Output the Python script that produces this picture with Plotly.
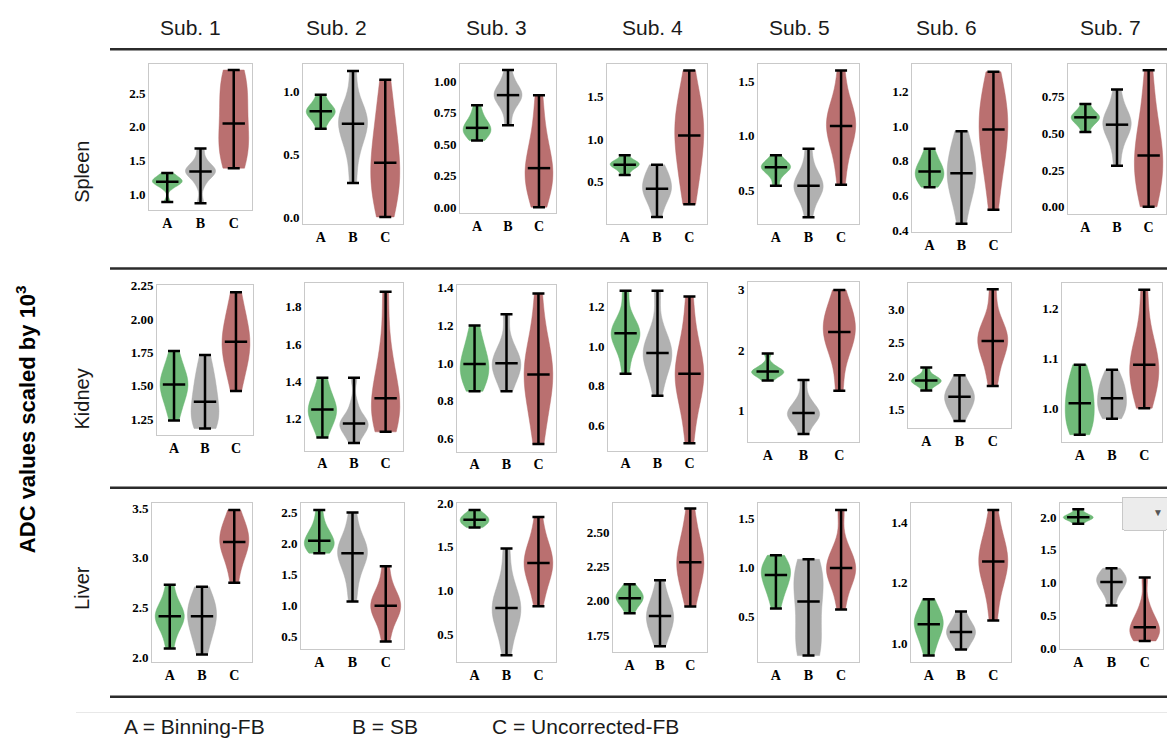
import numpy as np
import plotly.graph_objects as go

# ---------------- data ----------------
subjects = ["Sub. 1", "Sub. 2", "Sub. 3", "Sub. 4", "Sub. 5", "Sub. 6", "Sub. 7"]
organs = ["Spleen", "Kidney", "Liver"]
methods = ["A", "B", "C"]
legend_labels = ["A = Binning-FB", "B = SB", "C = Uncorrected-FB"]

# ADC samples per subject (x10^3) for each organ / method
spleen_A = [
    [0.89, 1.10, 1.15, 1.18, 1.19, 1.21, 1.23, 1.27, 1.32],
    [0.70, 0.76, 0.80, 0.82, 0.84, 0.85, 0.87, 0.91, 0.97],
    [0.53, 0.57, 0.59, 0.61, 0.63, 0.65, 0.68, 0.73, 0.81],
    [0.58, 0.64, 0.67, 0.69, 0.70, 0.72, 0.73, 0.75, 0.81],
    [0.54, 0.63, 0.67, 0.70, 0.71, 0.72, 0.74, 0.77, 0.82],
    [0.65, 0.68, 0.70, 0.72, 0.74, 0.76, 0.78, 0.82, 0.87],
    [0.51, 0.56, 0.58, 0.60, 0.61, 0.62, 0.63, 0.66, 0.70],
]
spleen_B = [
    [0.87, 1.15, 1.28, 1.32, 1.34, 1.37, 1.40, 1.50, 1.68],
    [0.27, 0.50, 0.62, 0.70, 0.74, 0.78, 0.82, 0.90, 1.16],
    [0.65, 0.78, 0.84, 0.87, 0.89, 0.91, 0.94, 0.99, 1.09],
    [0.09, 0.25, 0.35, 0.39, 0.42, 0.48, 0.55, 0.62, 0.70],
    [0.25, 0.40, 0.47, 0.51, 0.54, 0.57, 0.62, 0.70, 0.88],
    [0.44, 0.58, 0.64, 0.68, 0.73, 0.77, 0.82, 0.88, 0.97],
    [0.28, 0.42, 0.50, 0.54, 0.56, 0.59, 0.62, 0.68, 0.80],
]
spleen_C = [
    [1.39, 1.55, 1.70, 1.85, 2.05, 2.35, 2.55, 2.70, 2.84],
    [0.00, 0.15, 0.25, 0.32, 0.43, 0.55, 0.68, 0.85, 1.09],
    [0.00, 0.12, 0.20, 0.25, 0.31, 0.38, 0.48, 0.65, 0.89],
    [0.24, 0.50, 0.75, 0.90, 1.04, 1.20, 1.30, 1.45, 1.80],
    [0.55, 0.80, 0.95, 1.03, 1.09, 1.15, 1.22, 1.32, 1.60],
    [0.52, 0.72, 0.82, 0.90, 0.98, 1.05, 1.10, 1.18, 1.31],
    [0.00, 0.12, 0.20, 0.27, 0.35, 0.42, 0.52, 0.68, 0.93],
]
kidney_A = [
    [1.24, 1.35, 1.42, 1.47, 1.51, 1.54, 1.58, 1.65, 1.76],
    [1.10, 1.17, 1.20, 1.23, 1.25, 1.27, 1.30, 1.35, 1.42],
    [0.85, 0.90, 0.93, 0.96, 0.995, 1.02, 1.06, 1.12, 1.20],
    [0.86, 0.96, 1.01, 1.04, 1.065, 1.08, 1.10, 1.15, 1.28],
    [1.49, 1.56, 1.60, 1.62, 1.64, 1.66, 1.69, 1.76, 1.94],
    [1.78, 1.86, 1.89, 1.91, 1.93, 1.95, 1.97, 2.02, 2.13],
    [0.947, 0.96, 0.975, 0.99, 1.01, 1.025, 1.04, 1.06, 1.087],
]
kidney_B = [
    [1.18, 1.22, 1.25, 1.29, 1.38, 1.45, 1.52, 1.60, 1.73],
    [1.07, 1.12, 1.15, 1.16, 1.175, 1.19, 1.21, 1.28, 1.42],
    [0.85, 0.91, 0.95, 0.98, 1.00, 1.02, 1.05, 1.11, 1.26],
    [0.75, 0.85, 0.90, 0.94, 0.965, 0.99, 1.02, 1.09, 1.28],
    [0.60, 0.78, 0.86, 0.91, 0.95, 0.99, 1.06, 1.20, 1.50],
    [1.32, 1.47, 1.55, 1.61, 1.685, 1.72, 1.78, 1.86, 2.01],
    [0.979, 0.99, 1.00, 1.01, 1.02, 1.035, 1.045, 1.055, 1.077],
]
kidney_C = [
    [1.46, 1.62, 1.70, 1.76, 1.83, 1.88, 1.95, 2.05, 2.20],
    [1.13, 1.18, 1.22, 1.26, 1.31, 1.38, 1.45, 1.60, 1.88],
    [0.57, 0.72, 0.82, 0.89, 0.94, 0.99, 1.05, 1.15, 1.37],
    [0.51, 0.68, 0.77, 0.82, 0.86, 0.90, 0.96, 1.06, 1.25],
    [1.32, 1.85, 2.10, 2.22, 2.30, 2.45, 2.58, 2.68, 3.00],
    [1.85, 2.15, 2.35, 2.45, 2.53, 2.62, 2.70, 2.85, 3.31],
    [1.00, 1.03, 1.05, 1.07, 1.087, 1.10, 1.12, 1.16, 1.237],
]
liver_A = [
    [2.09, 2.25, 2.33, 2.38, 2.415, 2.45, 2.49, 2.58, 2.73],
    [1.84, 1.90, 1.95, 1.99, 2.04, 2.10, 2.18, 2.30, 2.54],
    [1.72, 1.75, 1.77, 1.79, 1.81, 1.83, 1.85, 1.87, 1.92],
    [1.91, 1.96, 1.99, 2.01, 2.02, 2.04, 2.06, 2.08, 2.12],
    [0.58, 0.72, 0.80, 0.86, 0.92, 0.97, 1.00, 1.03, 1.12],
    [0.96, 1.00, 1.03, 1.05, 1.063, 1.075, 1.09, 1.11, 1.146],
    [1.90, 1.95, 1.97, 1.99, 2.00, 2.01, 2.03, 2.06, 2.12],
]
liver_B = [
    [2.03, 2.18, 2.28, 2.35, 2.415, 2.47, 2.52, 2.60, 2.71],
    [1.06, 1.40, 1.65, 1.78, 1.84, 1.90, 1.98, 2.15, 2.50],
    [0.26, 0.52, 0.65, 0.74, 0.80, 0.86, 0.95, 1.12, 1.48],
    [1.67, 1.76, 1.81, 1.86, 1.89, 1.92, 1.96, 2.03, 2.15],
    [0.10, 0.15, 0.22, 0.40, 0.65, 0.82, 0.88, 0.93, 1.08],
    [0.98, 1.00, 1.02, 1.03, 1.038, 1.045, 1.06, 1.075, 1.105],
    [0.65, 0.82, 0.92, 0.97, 1.01, 1.06, 1.10, 1.15, 1.22],
]
liver_C = [
    [2.75, 2.95, 3.05, 3.12, 3.16, 3.22, 3.28, 3.35, 3.48],
    [0.41, 0.70, 0.85, 0.93, 0.99, 1.05, 1.15, 1.30, 1.63],
    [0.82, 1.05, 1.17, 1.25, 1.315, 1.38, 1.46, 1.58, 1.84],
    [1.96, 2.10, 2.18, 2.24, 2.28, 2.33, 2.40, 2.50, 2.67],
    [0.57, 0.78, 0.88, 0.94, 0.99, 1.04, 1.10, 1.22, 1.58],
    [1.076, 1.17, 1.22, 1.25, 1.27, 1.29, 1.32, 1.36, 1.44],
    [0.11, 0.17, 0.21, 0.26, 0.32, 0.38, 0.48, 0.65, 1.08],
]

organ_data = {
    "Spleen": [spleen_A, spleen_B, spleen_C],
    "Kidney": [kidney_A, kidney_B, kidney_C],
    "Liver": [liver_A, liver_B, liver_C],
}

# ---------------- layout / style ----------------
W, H = 1167, 748

# panel boxes in pixels (x0, x1, y0, y1), row-major
panel_boxes = [
    (149, 252, 58, 207), (303, 403, 58, 221), (460, 556, 58, 210), (607, 707, 58, 221),
    (758, 859, 58, 221), (912, 1011, 58, 229), (1068, 1166, 58, 211),
    (157, 253, 283, 436), (305, 403, 281, 452), (457, 556, 283, 453), (608, 707, 281, 452),
    (748, 859, 280, 443), (908, 1011, 281, 429), (1062, 1162, 281, 443),
    (152, 252, 505, 668), (301, 404, 505, 654), (457, 556, 505, 668), (613, 707, 505, 657),
    (758, 859, 505, 668), (911, 1011, 505, 668), (1060, 1163, 505, 654),
]
y_ranges = [
    [0.77, 2.93], [-0.055, 1.216], [-0.047, 1.138], [0.01, 1.877], [0.19, 1.66], [0.395, 1.355], [-0.049, 0.974],
    [1.132, 2.257], [1.03, 1.928], [0.53, 1.417], [0.473, 1.32], [0.473, 3.136], [1.214, 3.41], [0.933, 1.251],
    [1.95, 3.556], [0.294, 2.659], [0.178, 2.006], [1.631, 2.714], [0.03, 1.657], [0.937, 1.465], [-0.01, 2.224],
]
y_dticks = [
    0.5, 0.5, 0.25, 0.5, 0.5, 0.2, 0.25,
    0.25, 0.2, 0.2, 0.2, 1, 0.5, 0.1,
    0.5, 0.5, 0.5, 0.25, 0.5, 0.2, 0.5,
]
y_formats = [
    ".1f", ".1f", ".2f", ".1f", ".1f", ".1f", ".2f",
    ".2f", ".1f", ".1f", ".1f", ".0f", ".1f", ".1f",
    ".1f", ".1f", ".1f", ".2f", ".1f", ".1f", ".1f",
]
title_x = [190, 336, 496, 652, 799, 946, 1110]
row_label_y = [168, 400, 592]

fill_colors = ["rgba(100,180,110,0.92)", "rgba(170,170,170,0.92)", "rgba(180,100,100,0.92)"]
ytick_font = dict(family="Liberation Serif", size=13, color="black", weight="bold")
xtick_font = dict(family="Liberation Serif", size=14, color="black", weight="bold")
frame_color = "#c9c9c9"

fig = go.Figure()
layout_axes = {}

idx = 0
for r, organ in enumerate(organs):
    series = organ_data[organ]
    for c in range(len(subjects)):
        xa = "x" if idx == 0 else f"x{idx + 1}"
        ya = "y" if idx == 0 else f"y{idx + 1}"
        meds, lows, highs = [], [], []
        for m, method in enumerate(methods):
            vals = series[m][c]
            fig.add_trace(go.Violin(
                x=[method] * len(vals), y=vals, xaxis=xa, yaxis=ya,
                spanmode="hard", points=False, width=0.9,
                fillcolor=fill_colors[m],
                line=dict(color=fill_colors[m], width=0.5),
                box_visible=False, meanline_visible=False,
                showlegend=False, hoverinfo="skip",
            ))
            arr = np.array(vals)
            meds.append(float(np.median(arr)))
            lows.append(float(arr.min()))
            highs.append(float(arr.max()))
        meds = np.array(meds)
        fig.add_trace(go.Scatter(
            x=methods, y=meds, xaxis=xa, yaxis=ya, mode="markers",
            marker=dict(symbol="line-ew", size=16, color="black",
                        line=dict(width=2.5, color="black")),
            error_y=dict(type="data", symmetric=False,
                         array=np.array(highs) - meds,
                         arrayminus=meds - np.array(lows),
                         color="black", thickness=2.5, width=6),
            showlegend=False, hoverinfo="skip",
        ))
        x0, x1, y0, y1 = panel_boxes[idx]
        key = "" if idx == 0 else str(idx + 1)
        layout_axes["xaxis" + key] = dict(
            domain=[x0 / W, x1 / W], anchor=ya, type="category",
            categoryorder="array", categoryarray=methods,
            range=[-0.55, 2.55], showline=True, mirror=True,
            linecolor=frame_color, linewidth=1, showgrid=False,
            zeroline=False, ticks="", tickfont=xtick_font, fixedrange=True,
        )
        layout_axes["yaxis" + key] = dict(
            domain=[1 - y1 / H, 1 - y0 / H], anchor=xa,
            range=y_ranges[idx], tick0=0, dtick=y_dticks[idx],
            tickformat=y_formats[idx], showline=True, mirror=True,
            linecolor=frame_color, linewidth=1, showgrid=False,
            zeroline=False, ticks="", tickfont=ytick_font, fixedrange=True,
        )
        idx += 1

annotations = []
for c, s in enumerate(subjects):
    annotations.append(dict(
        x=title_x[c] / W, y=1 - 21 / H, xref="paper", yref="paper",
        text=s, showarrow=False, xanchor="center", yanchor="middle",
        font=dict(family="Liberation Sans", size=21, color="#1a1a1a"),
    ))
for r, organ in enumerate(organs):
    annotations.append(dict(
        x=82 / W, y=1 - row_label_y[r] / H, xref="paper", yref="paper",
        text=organ, showarrow=False, textangle=-90,
        xanchor="center", yanchor="middle",
        font=dict(family="Liberation Sans", size=20, color="#1a1a1a"),
    ))
annotations.append(dict(
    x=26 / W, y=1 - 420 / H, xref="paper", yref="paper",
    text="<b>ADC values scaled by 10<sup>3</sup></b>", showarrow=False,
    textangle=-90, xanchor="center", yanchor="middle",
    font=dict(family="Liberation Sans", size=22, color="black"),
))
legend_x = [122, 350, 490]
for i, lab in enumerate(legend_labels):
    annotations.append(dict(
        x=legend_x[i] / W, y=1 - 733 / H, xref="paper", yref="paper",
        text=lab, showarrow=False, xanchor="left", yanchor="middle",
        font=dict(family="Liberation Sans", size=21, color="#1a1a1a"),
    ))

shapes = []
for yy in [43, 266.5, 490, 703]:
    shapes.append(dict(type="line", xref="paper", yref="paper",
                       x0=110 / W, x1=1.0, y0=1 - yy / H, y1=1 - yy / H,
                       line=dict(color="#2b2b2b", width=2.5)))
shapes.append(dict(type="line", xref="paper", yref="paper",
                   x0=76 / W, x1=1.0, y0=1 - 719 / H, y1=1 - 719 / H,
                   line=dict(color="#e8e8e8", width=1)))

fig.update_layout(
    width=W, height=H, margin=dict(l=0, r=0, t=0, b=0),
    paper_bgcolor="white", plot_bgcolor="white",
    violinmode="overlay", showlegend=False,
    annotations=annotations, shapes=shapes,
    updatemenus=[dict(
        type="dropdown", buttons=[dict(label="", method="skip", args=[None])],
        x=1.0, y=1 - 498 / H, xanchor="right", yanchor="top",
        bgcolor="#ececec", bordercolor="#c8c8c8", borderwidth=1,
        font=dict(color="#555555", size=10), showactive=False,
        pad=dict(t=0, b=0, l=0, r=0),
    )],
    **layout_axes,
)

fig.write_html(
    "out.html",
    config={"displayModeBar": False},
    post_script="document.body.style.margin='0';document.body.style.overflow='hidden';",
)
